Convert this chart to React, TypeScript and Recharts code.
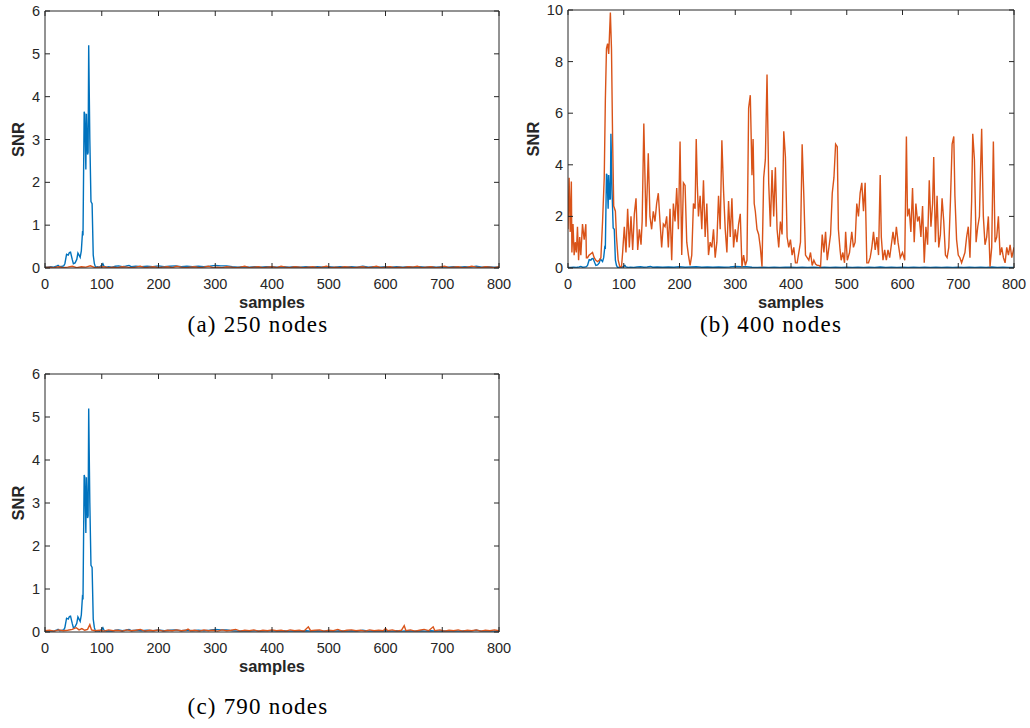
import React from 'react';
import { LineChart, Line, XAxis, YAxis } from 'recharts';

// ---------- data ----------
const xTicks = [0, 100, 200, 300, 400, 500, 600, 700, 800];
const yTicks6 = [0, 1, 2, 3, 4, 5, 6];
const yTicks10 = [0, 2, 4, 6, 8, 10];

// blue series (same in all panels)
const blueSamples = [0, 5, 10, 15, 20, 23, 26, 30, 33, 35, 38, 41, 43, 45, 48, 50, 53, 56, 58, 60, 62, 64, 66, 67, 69, 70, 72, 73, 75, 76, 77, 79, 81, 83, 85, 87, 89, 92, 96, 100, 102, 104, 108, 112, 118, 124, 130, 136, 142, 148, 152, 160, 170, 180, 190, 200, 210, 220, 230, 240, 250, 260, 270, 280, 290, 300, 310, 320, 330, 340, 350, 360, 370, 380, 390, 400, 410, 420, 430, 440, 450, 460, 470, 480, 490, 500, 510, 520, 530, 540, 550, 560, 570, 580, 590, 600, 610, 620, 630, 640, 650, 660, 670, 680, 690, 700, 710, 720, 730, 740, 750, 760, 770, 780, 790, 800];
const blueSNR = [0.02, 0.02, 0.03, 0.02, 0.04, 0.06, 0.03, 0.04, 0.05, 0.1, 0.32, 0.3, 0.36, 0.37, 0.2, 0.1, 0.12, 0.2, 0.35, 0.3, 0.25, 0.4, 0.82, 0.8, 3.65, 3.6, 2.3, 3.6, 2.65, 2.7, 5.2, 3.0, 1.55, 1.5, 0.3, 0.1, 0.02, 0.03, 0.02, 0.06, 0.1, 0.04, 0.02, 0.03, 0.02, 0.04, 0.05, 0.03, 0.04, 0.06, 0.03, 0.04, 0.03, 0.04, 0.03, 0.05, 0.03, 0.04, 0.05, 0.03, 0.04, 0.03, 0.04, 0.03, 0.04, 0.06, 0.05, 0.05, 0.03, 0.02, 0.03, 0.02, 0.03, 0.02, 0.03, 0.03, 0.02, 0.03, 0.02, 0.03, 0.02, 0.03, 0.02, 0.03, 0.02, 0.03, 0.02, 0.03, 0.02, 0.03, 0.02, 0.04, 0.02, 0.03, 0.02, 0.03, 0.02, 0.03, 0.02, 0.03, 0.02, 0.03, 0.02, 0.03, 0.02, 0.03, 0.02, 0.03, 0.02, 0.03, 0.02, 0.04, 0.02, 0.03, 0.02, 0.02];

// orange series, panel (a) 250 nodes
const orangeASamples = [0, 8, 16, 24, 32, 40, 48, 56, 64, 72, 80, 88, 96, 104, 112, 120, 128, 136, 144, 152, 160, 168, 176, 184, 192, 200, 208, 216, 224, 232, 240, 248, 256, 264, 272, 280, 288, 296, 304, 312, 320, 328, 336, 344, 352, 360, 368, 376, 384, 392, 400, 408, 416, 424, 432, 440, 448, 456, 464, 472, 480, 488, 496, 504, 512, 520, 528, 536, 544, 552, 560, 568, 576, 584, 592, 600, 608, 616, 624, 632, 640, 648, 656, 664, 672, 680, 688, 696, 704, 712, 720, 728, 736, 744, 752, 760, 768, 776, 784, 792, 800];
const orangeASNR = [0.01, 0.02, 0.01, 0.03, 0.01, 0.02, 0.04, 0.01, 0.03, 0.02, 0.05, 0.01, 0.02, 0.03, 0.01, 0.02, 0.01, 0.03, 0.02, 0.01, 0.02, 0.04, 0.01, 0.02, 0.03, 0.01, 0.02, 0.03, 0.01, 0.04, 0.02, 0.01, 0.02, 0.03, 0.01, 0.02, 0.04, 0.01, 0.02, 0.01, 0.03, 0.02, 0.01, 0.02, 0.04, 0.01, 0.02, 0.03, 0.01, 0.02, 0.03, 0.01, 0.04, 0.02, 0.01, 0.03, 0.02, 0.01, 0.02, 0.03, 0.01, 0.02, 0.04, 0.01, 0.02, 0.01, 0.03, 0.02, 0.01, 0.02, 0.03, 0.01, 0.02, 0.04, 0.01, 0.02, 0.03, 0.01, 0.02, 0.01, 0.03, 0.02, 0.04, 0.01, 0.02, 0.03, 0.01, 0.02, 0.04, 0.01, 0.02, 0.03, 0.01, 0.02, 0.04, 0.02, 0.01, 0.03, 0.02, 0.01, 0.03];

// orange series, panel (b) 400 nodes
const orangeBSamples = [0, 2, 4, 6, 7, 9, 11, 13, 15, 17, 19, 21, 23, 26, 29, 32, 33, 35, 38, 41, 44, 47, 50, 53, 56, 59, 62, 65, 67, 69, 71, 73, 74, 76, 78, 80, 82, 85, 87, 90, 93, 96, 98, 101, 104, 107, 110, 113, 116, 119, 122, 125, 128, 131, 133, 136, 140, 144, 147, 150, 153, 156, 159, 162, 165, 168, 171, 174, 177, 180, 183, 186, 189, 192, 195, 198, 201, 204, 207, 210, 213, 216, 219, 222, 225, 228, 230, 232, 234, 237, 240, 243, 246, 249, 252, 255, 258, 261, 264, 267, 270, 273, 276, 279, 282, 285, 288, 291, 294, 297, 300, 303, 306, 309, 312, 315, 318, 321, 324, 327, 330, 332, 334, 336, 339, 342, 345, 348, 351, 354, 357, 360, 363, 366, 369, 372, 375, 378, 381, 384, 387, 390, 393, 396, 399, 402, 405, 408, 411, 414, 417, 420, 423, 426, 429, 432, 435, 438, 441, 444, 447, 450, 453, 456, 459, 462, 465, 468, 471, 474, 477, 480, 483, 485, 488, 490, 493, 496, 498, 501, 505, 509, 512, 515, 518, 521, 524, 527, 530, 533, 536, 539, 542, 545, 548, 551, 554, 557, 560, 562, 565, 568, 571, 574, 577, 580, 583, 586, 589, 592, 596, 600, 604, 607, 609, 612, 615, 618, 621, 624, 627, 630, 633, 636, 639, 642, 645, 648, 651, 654, 656, 659, 662, 665, 668, 671, 674, 677, 680, 683, 686, 689, 692, 694, 697, 700, 703, 706, 709, 712, 715, 718, 721, 724, 726, 729, 732, 735, 738, 740, 742, 745, 748, 751, 754, 757, 760, 763, 766, 769, 772, 775, 778, 781, 784, 787, 790, 793, 796, 800];
const orangeBSNR = [1.5, 3.5, 1.4, 3.35, 0.6, 1.7, 0.5, 1.0, 0.6, 1.6, 0.3, 1.2, 0.5, 1.7, 1.1, 1.7, 0.4, 0.4, 0.5, 0.55, 0.6, 0.4, 0.3, 0.25, 0.3, 0.4, 1.8, 3.5, 6.5, 8.5, 8.7, 8.3, 8.8, 9.9, 8.5, 5.0, 2.4, 2.2, 1.2, 0.3, 0.05, 0.05, 0.6, 1.6, 0.6, 2.3, 0.8, 2.0, 0.7, 2.1, 2.7, 0.7, 1.5, 0.9, 1.8, 5.6, 1.6, 4.45, 2.0, 1.5, 2.2, 1.8, 2.5, 2.9, 1.8, 0.8, 1.7, 1.6, 2.0, 0.8, 2.3, 0.3, 2.5, 1.8, 3.1, 1.5, 4.9, 0.5, 3.3, 3.2, 1.0, 0.5, 0.1, 0.5, 2.5, 2.3, 5.0, 3.2, 2.0, 2.8, 1.5, 3.4, 1.2, 2.5, 0.5, 1.0, 0.8, 1.5, 0.4, 1.0, 2.8, 1.5, 4.95, 3.0, 1.5, 0.6, 2.6, 1.2, 2.7, 0.8, 1.5, 1.0, 1.7, 2.1, 0.05, 0.5, 0.1, 0.3, 6.2, 6.7, 3.6, 5.0, 2.5, 2.2, 1.5, 1.3, 0.8, 0.05, 3.5, 4.2, 7.5, 3.3, 1.6, 3.8, 2.0, 3.9, 1.5, 0.8, 1.8, 1.3, 5.3, 4.3, 1.2, 0.8, 1.1, 0.5, 0.8, 0.2, 0.2, 0.6, 1.0, 4.8, 2.8, 0.5, 0.4, 0.3, 0.6, 0.1, 0.3, 0.15, 0.1, 0.1, 0.05, 1.3, 0.6, 1.4, 0.3, 0.8, 1.3, 2.9, 3.5, 4.8, 4.7, 1.5, 0.7, 0.3, 0.6, 0.2, 1.4, 0.3, 0.6, 1.4, 0.8, 1.0, 2.5, 2.0, 2.9, 3.3, 2.2, 3.3, 0.2, 0.2, 0.4, 0.8, 1.4, 0.7, 1.2, 0.5, 3.6, 1.2, 0.3, 0.7, 0.3, 0.7, 0.4, 0.9, 1.4, 0.9, 1.6, 1.0, 0.4, 0.6, 0.3, 5.1, 2.0, 2.3, 1.4, 3.1, 1.0, 2.5, 1.8, 2.0, 1.2, 2.4, 0.2, 1.6, 0.9, 3.4, 1.6, 2.5, 4.3, 1.0, 2.8, 0.8, 1.3, 2.7, 1.8, 0.5, 0.4, 0.8, 2.6, 4.8, 5.1, 2.8, 1.1, 0.5, 0.4, 0.2, 0.4, 0.6, 1.2, 1.6, 0.4, 2.6, 5.2, 4.2, 1.0, 1.6, 2.0, 3.8, 5.4, 2.0, 0.9, 1.2, 2.0, 0.05, 0.8, 4.9, 1.0, 1.2, 2.0, 0.5, 0.8, 0.4, 0.2, 0.8, 0.5, 0.9, 0.4, 0.8];

// orange series, panel (c) 790 nodes
const orangeCSamples = [0, 8, 16, 24, 32, 40, 48, 55, 60, 65, 70, 75, 79, 82, 88, 96, 104, 112, 120, 128, 136, 144, 152, 160, 168, 176, 184, 192, 200, 208, 216, 224, 232, 240, 248, 252, 256, 264, 272, 280, 288, 296, 304, 312, 320, 328, 336, 344, 352, 360, 368, 376, 384, 392, 400, 408, 416, 424, 432, 440, 448, 456, 464, 468, 476, 484, 492, 500, 508, 516, 524, 532, 540, 548, 556, 564, 572, 580, 588, 596, 600, 604, 612, 620, 628, 633, 636, 644, 652, 660, 668, 676, 684, 687, 696, 704, 712, 720, 728, 736, 744, 752, 760, 768, 776, 784, 792, 800];
const orangeCSNR = [0.03, 0.04, 0.02, 0.05, 0.03, 0.04, 0.06, 0.1, 0.05, 0.08, 0.04, 0.06, 0.17, 0.05, 0.03, 0.04, 0.02, 0.05, 0.03, 0.04, 0.02, 0.05, 0.03, 0.04, 0.06, 0.02, 0.04, 0.03, 0.05, 0.02, 0.04, 0.03, 0.05, 0.03, 0.04, 0.07, 0.03, 0.04, 0.02, 0.05, 0.03, 0.04, 0.02, 0.05, 0.03, 0.04, 0.06, 0.02, 0.04, 0.03, 0.05, 0.02, 0.04, 0.03, 0.05, 0.03, 0.04, 0.02, 0.05, 0.03, 0.04, 0.02, 0.12, 0.03, 0.04, 0.05, 0.02, 0.04, 0.03, 0.06, 0.02, 0.04, 0.05, 0.03, 0.04, 0.02, 0.05, 0.03, 0.04, 0.03, 0.08, 0.03, 0.05, 0.02, 0.04, 0.15, 0.03, 0.05, 0.02, 0.04, 0.06, 0.03, 0.12, 0.03, 0.05, 0.02, 0.04, 0.03, 0.05, 0.02, 0.04, 0.03, 0.05, 0.02, 0.04, 0.03, 0.05, 0.03];

const toPoints = (xs: number[], ys: number[]) => xs.map((x, i) => ({ x, y: ys[i] }));

// ---------- styles ----------
const BLUE = '#0072BD';
const ORANGE = '#D95319';
const AXIS = '#262626';
const SANS = '"Liberation Sans", Arial, Helvetica, sans-serif';
const SERIF = '"Liberation Serif", "DejaVu Serif", serif';
const TICK_FS = 14.5;
const Y_AXIS_W = 45;

// bottom ticks also draw the mirrored inward tick at the top edge of the box
const makeBottomTick = (plotH: number) => (props: any) => {
  const { x, y, payload } = props;
  return (
    <g>
      <line x1={x} x2={x} y1={y} y2={y - 5} stroke={AXIS} strokeWidth={1} />
      <line x1={x} x2={x} y1={y - plotH} y2={y - plotH + 5} stroke={AXIS} strokeWidth={1} />
      <text x={x} y={y + 21} textAnchor="middle" fontSize={TICK_FS} fill={AXIS} fontFamily={SANS}>
        {payload.value}
      </text>
    </g>
  );
};
// left ticks also draw the mirrored inward tick at the right edge of the box
const makeLeftTick = (plotW: number) => (props: any) => {
  const { x, y, payload } = props;
  return (
    <g>
      <line x1={x} x2={x + 5} y1={y} y2={y} stroke={AXIS} strokeWidth={1} />
      <line x1={x + plotW} x2={x + plotW - 5} y1={y} y2={y} stroke={AXIS} strokeWidth={1} />
      <text x={x - 5} y={y + 5} textAnchor="end" fontSize={TICK_FS} fill={AXIS} fontFamily={SANS}>
        {payload.value}
      </text>
    </g>
  );
};

type PanelProps = {
  left: number;
  top: number;
  width: number;
  height: number;
  margin: { top: number; right: number; bottom: number; left: number };
  xAxisHeight: number;
  yMax: number;
  yTicks: number[];
  orange: { x: number; y: number }[];
};

const Panel = ({ left, top, width, height, margin, xAxisHeight, yMax, yTicks, orange }: PanelProps) => {
  const blue = toPoints(blueSamples, blueSNR);
  const plotW = width - margin.left - margin.right - Y_AXIS_W - 1;
  const plotH = height - margin.top - margin.bottom - xAxisHeight - 1;
  return (
    <div style={{ position: 'absolute', left, top, width, height }}>
      <LineChart width={width} height={height} margin={margin}>
        <XAxis
          xAxisId="x"
          dataKey="x"
          type="number"
          domain={[0, 800]}
          ticks={xTicks}
          interval={0}
          height={xAxisHeight}
          tickSize={0}
          tickMargin={0}
          tick={makeBottomTick(plotH)}
          tickLine={false}
          axisLine={{ stroke: AXIS, strokeWidth: 1 }}
          allowDataOverflow
        />
        <XAxis
          xAxisId="top"
          orientation="top"
          dataKey="x"
          type="number"
          domain={[0, 800]}
          ticks={xTicks}
          height={1}
          tick={false}
          tickLine={false}
          axisLine={{ stroke: AXIS, strokeWidth: 1 }}
        />
        <YAxis
          yAxisId="y"
          type="number"
          domain={[0, yMax]}
          ticks={yTicks}
          interval={0}
          width={Y_AXIS_W}
          tickSize={0}
          tickMargin={0}
          tick={makeLeftTick(plotW)}
          tickLine={false}
          axisLine={{ stroke: AXIS, strokeWidth: 1 }}
          allowDataOverflow
        />
        <YAxis
          yAxisId="right"
          orientation="right"
          type="number"
          domain={[0, yMax]}
          ticks={yTicks}
          width={1}
          tick={false}
          tickLine={false}
          axisLine={{ stroke: AXIS, strokeWidth: 1 }}
        />
        <Line
          xAxisId="x"
          yAxisId="y"
          data={blue}
          dataKey="y"
          type="linear"
          stroke={BLUE}
          strokeWidth={1.4}
          dot={false}
          activeDot={false}
          isAnimationActive={false}
        />
        <Line
          xAxisId="x"
          yAxisId="y"
          data={orange}
          dataKey="y"
          type="linear"
          stroke={ORANGE}
          strokeWidth={1.4}
          dot={false}
          activeDot={false}
          isAnimationActive={false}
        />
      </LineChart>
    </div>
  );
};

export default function App() {
  const orangeA = toPoints(orangeASamples, orangeASNR);
  const orangeB = toPoints(orangeBSamples, orangeBSNR);
  const orangeC = toPoints(orangeCSamples, orangeCSNR);
  return (
    <div style={{ position: 'absolute', left: 0, top: 0, width: 1030, height: 728, background: '#fff', overflow: 'hidden' }}>
      <Panel left={0} top={0} width={520} height={300} margin={{ top: 10, right: 20, bottom: 0, left: 0 }} xAxisHeight={32} yMax={6} yTicks={yTicks6} orange={orangeA} />
      <Panel left={523} top={0} width={507} height={300} margin={{ top: 9, right: 15, bottom: 0, left: 0 }} xAxisHeight={32} yMax={10} yTicks={yTicks10} orange={orangeB} />
      <Panel left={0} top={363} width={520} height={300} margin={{ top: 10, right: 20, bottom: 0, left: 0 }} xAxisHeight={31} yMax={6} yTicks={yTicks6} orange={orangeC} />
      <svg width={1030} height={728} style={{ position: 'absolute', left: 0, top: 0, pointerEvents: 'none' }}>
        <g fontFamily={SANS} fontWeight="bold" fontSize={16.5} fill={AXIS}>
          <text x={17.5} y={139.5} textAnchor="middle" dominantBaseline="central" transform="rotate(-90 17.5 139.5)">SNR</text>
          <text x={533} y={139} textAnchor="middle" dominantBaseline="central" transform="rotate(-90 533 139)">SNR</text>
          <text x={17.5} y={503} textAnchor="middle" dominantBaseline="central" transform="rotate(-90 17.5 503)">SNR</text>
          <text x={272} y={308} textAnchor="middle">samples</text>
          <text x={791} y={308} textAnchor="middle">samples</text>
          <text x={272} y={672} textAnchor="middle">samples</text>
        </g>
        <g fontFamily={SERIF} fontSize={23} fill="#000" letterSpacing={1.2}>
          <text x={258} y={331.5} textAnchor="middle">(a) 250 nodes</text>
          <text x={771} y={331.5} textAnchor="middle">(b) 400 nodes</text>
          <text x={258} y={714} textAnchor="middle">(c) 790 nodes</text>
        </g>
      </svg>
    </div>
  );
}
